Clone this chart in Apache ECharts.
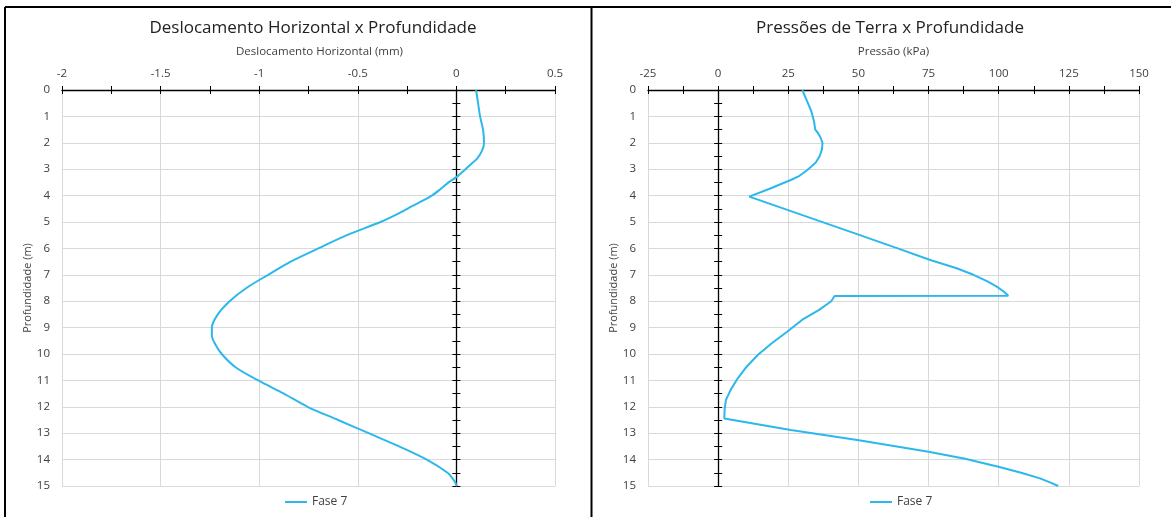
<!DOCTYPE html>
<html>
<head>
<meta charset="utf-8">
<script src="https://cdn.jsdelivr.net/npm/echarts@6/dist/echarts.min.js"></script>
<style>
html,body{margin:0;padding:0;background:#fff;}
#c{width:1171px;height:517px;}
</style>
</head>
<body>
<div id="c"></div>
<script>
// ---- Data ----
const leftDepth = [0,0.5,1.0,1.5,2.0,2.3,2.6,2.8,3.0,3.3,3.5,3.75,4.0,4.42,4.7,5.0,5.5,6.0,6.5,7.0,7.5,8.0,8.5,9.0,9.3,9.6,10.0,10.5,11.0,11.5,12.0,12.5,13.0,13.5,14.0,14.5,14.77,15.0];
const leftDisp  = [0.10,0.11,0.12,0.135,0.14,0.13,0.105,0.075,0.046,0.0,-0.04,-0.08,-0.125,-0.23,-0.30,-0.385,-0.555,-0.70,-0.84,-0.955,-1.065,-1.15,-1.21,-1.24,-1.24,-1.225,-1.19,-1.12,-1.005,-0.875,-0.755,-0.60,-0.445,-0.29,-0.15,-0.045,-0.014,0.003];

const rightDepth = [0,0.25,0.5,0.8,1.2,1.5,1.6,1.8,2.0,2.25,2.5,2.75,3.03,3.25,3.41,3.58,3.72,4.04,4.72,5.42,6.0,6.44,6.75,7.0,7.25,7.45,7.65,7.79,7.8,8.0,8.33,8.7,9.15,9.6,10.04,10.5,10.92,11.35,11.74,12.1,12.44,12.88,13.26,13.7,13.97,14.27,14.5,14.71,14.87,15.0];
const rightPress = [30,31,32,33.2,34.2,34.6,35.4,36.5,37.2,37.0,36.2,34.8,31.8,29,25.9,22,18.8,11.1,29.5,48.5,64,75.6,85,91,96,99.3,102,103.4,41.5,40.3,36,30,24.7,19,14.1,10,7.0,4.5,2.8,2.3,2.2,25.9,49.6,75,88,99.9,108,114.7,118.5,121.2];

const depthTicks = {min:0, max:15, interval:1};
const leftXRange = {min:-2, max:0.5, interval:0.5, minor:0.25};
const rightXRange = {min:-25, max:150, interval:25, minor:12.5};

const titles = ['Deslocamento Horizontal x Profundidade','Pressões de Terra x Profundidade'];
const xNames = ['Deslocamento Horizontal (mm)','Pressão (kPa)'];
const yName = 'Profundidade (m)';
const seriesName = 'Fase 7';

// ---- Chart ----
const FONT = 'Open Sans';
const TXT = '#404040';
const GRIDC = '#d9d9d9';
const LINEC = '#2CB8EC';

const chart = echarts.init(document.getElementById('c'), null, {renderer:'canvas'});

const grids = [
  {left:62, top:90, width:493, height:396},
  {left:648, top:90, width:491, height:396}
];

const xAxes = [], yAxes = [];
[leftXRange, rightXRange].forEach((r, g) => {
  xAxes.push({
    type:'value', gridIndex:g, position:'top', min:r.min, max:r.max, interval:r.interval,
    name:xNames[g], nameLocation:'middle', nameGap:32,
    nameTextStyle:{fontFamily:FONT, fontSize:11.5, color:TXT, padding: g===0 ? [0,0,0,22] : [0,0,0,0]},
    axisLine:{show:true, onZero:false, lineStyle:{color:'#000', width:1.3}},
    axisTick:{show:false},
    axisLabel:{fontFamily:FONT, fontSize:11.5, color:TXT, margin:10},
    splitLine:{show:true, lineStyle:{color:GRIDC, width:1}}
  });
  [false, true].forEach(inside => {
    xAxes.push({
      type:'value', gridIndex:g, position:'top', min:r.min, max:r.max, interval:r.minor,
      axisLine:{show:false, onZero:false},
      axisTick:{show:true, inside:inside, length:4, lineStyle:{color:'#000', width:1}},
      axisLabel:{show:false}, splitLine:{show:false}
    });
  });
  const xBase = g*3;
  yAxes.push({
    type:'value', gridIndex:g, position:'left', inverse:true,
    min:depthTicks.min, max:depthTicks.max, interval:depthTicks.interval,
    name:yName, nameLocation:'middle', nameGap:19, nameRotate:90,
    nameTextStyle:{fontFamily:FONT, fontSize:11, color:TXT},
    axisLine:{show:false, onZero:false},
    axisTick:{show:false},
    axisLabel:{fontFamily:FONT, fontSize:11.5, color:TXT, margin:12},
    splitLine:{show:true, lineStyle:{color:GRIDC, width:1}}
  });
  [false, true].forEach((inside, k) => {
    yAxes.push({
      type:'value', gridIndex:g, position:'left', inverse:true,
      min:depthTicks.min, max:depthTicks.max, interval:0.5,
      axisLine:{show:k===0, onZero:true, onZeroAxisIndex:xBase, lineStyle:{color:'#000', width:1.3}},
      axisTick:{show:true, inside:inside, length:4, lineStyle:{color:'#000', width:1}},
      axisLabel:{show:false}, splitLine:{show:false}
    });
  });
});

const zip = (xs, ys) => xs.map((x, i) => [x, ys[i]]);

const legendBase = {top:496, padding:0, icon:'rect', itemWidth:22, itemHeight:2, data:[seriesName],
  textStyle:{fontFamily:FONT, fontSize:12, color:TXT}};

const option = {
  animation:false,
  backgroundColor:'#fff',
  title:[
    {text:titles[0], left:308, top:15, textAlign:'center',
     textStyle:{fontFamily:FONT, fontSize:17, fontWeight:'normal', color:'#222'}},
    {text:titles[1], left:885, top:15, textAlign:'center',
     textStyle:{fontFamily:FONT, fontSize:17, fontWeight:'normal', color:'#222'}}
  ],
  legend:[
    Object.assign({left:285}, legendBase),
    Object.assign({left:870}, legendBase)
  ],
  grid:grids,
  xAxis:xAxes,
  yAxis:yAxes,
  series:[
    {name:seriesName, type:'line', xAxisIndex:0, yAxisIndex:0, data:zip(leftDisp, leftDepth),
     symbol:'none', smooth:0.3, lineStyle:{color:LINEC, width:2}, itemStyle:{color:LINEC}},
    {name:seriesName, type:'line', xAxisIndex:3, yAxisIndex:3, data:zip(rightPress, rightDepth),
     symbol:'none', smooth:false, lineStyle:{color:LINEC, width:2}, itemStyle:{color:LINEC}}
  ],
  graphic:[
    {type:'line', shape:{x1:5, y1:7, x2:1171, y2:7}, style:{stroke:'#000', lineWidth:2}},
    {type:'line', shape:{x1:5, y1:7, x2:5, y2:517}, style:{stroke:'#000', lineWidth:2}},
    {type:'line', shape:{x1:591.5, y1:7, x2:591.5, y2:517}, style:{stroke:'#000', lineWidth:2}}
  ]
};
chart.setOption(option);
</script>
</body>
</html>
